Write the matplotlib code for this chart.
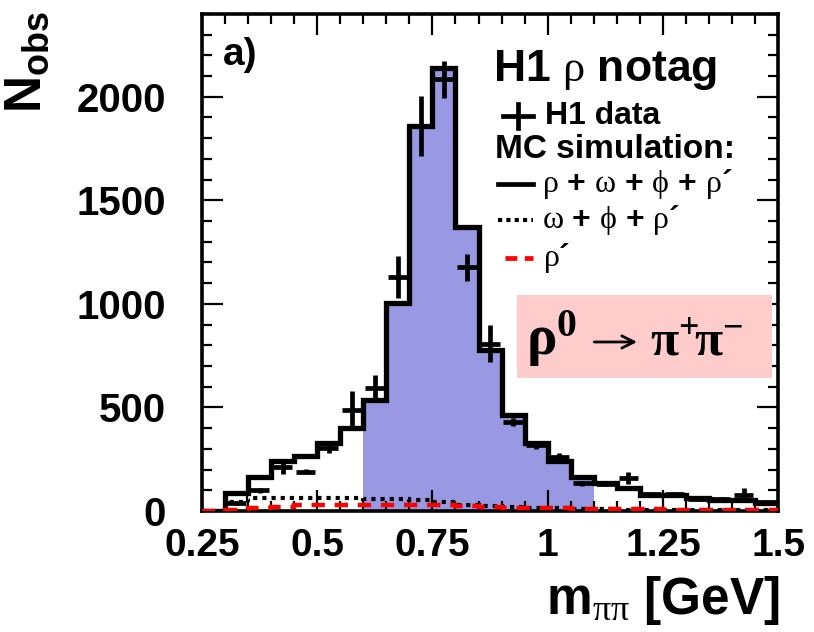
import numpy as np
import matplotlib
matplotlib.use("Agg")
import matplotlib.pyplot as plt
from matplotlib.patches import Rectangle
from matplotlib.ticker import MultipleLocator

plt.rcParams['font.family'] = ['Liberation Sans', 'DejaVu Sans']
plt.rcParams['font.weight'] = 'bold'
plt.rcParams['mathtext.fontset'] = 'custom'
plt.rcParams['mathtext.rm'] = 'Liberation Serif:weight=normal:style=normal'
plt.rcParams['mathtext.it'] = 'Liberation Serif:weight=normal:style=italic'
plt.rcParams['mathtext.bf'] = 'Liberation Serif:weight=bold:style=normal'
plt.rcParams['mathtext.sf'] = 'Liberation Sans:weight=bold:style=normal'
plt.rcParams['mathtext.default'] = 'rm'

# bin edges 0.25 .. 1.5 in steps of 0.05 GeV
edges = np.linspace(0.25, 1.5, 26)

# MC rho + omega + phi + rho'
mc_total = [0, 85, 165, 241, 265, 326, 402, 535, 1003, 1860, 2140, 1370, 776,
            463, 326, 242, 165, 133, 109, 77, 77, 61, 53, 53, 37]
# MC omega + phi + rho'
mc_bkg = [0, 45, 64, 64, 64, 64, 62, 60, 56, 52, 45, 30, 22, 18, 14, 12, 10,
          8, 7, 6, 5, 5, 4, 4, 3]
# MC rho'
mc_rhop = [2, 6, 13, 20, 27, 29, 29, 29, 28, 28, 27, 24, 18, 15, 13, 12, 10,
           9, 8, 8, 7, 6, 6, 5, 5]

# H1 data
data_x = [0.325, 0.375, 0.425, 0.475, 0.525, 0.575, 0.625, 0.675, 0.725, 0.775,
          0.825, 0.875, 0.925, 0.975, 1.025, 1.075, 1.125, 1.175, 1.225, 1.275,
          1.325, 1.375, 1.425, 1.475]
data_y = [40, 100, 213, 189, 302, 487, 595, 1129, 1860, 2085, 1177, 808, 430,
          318, 262, 133, 130, 158, 80, 82, 58, 58, 77, 45]
data_err = [10, 12, 35, 12, 20, 90, 60, 100, 145, 90, 65, 90, 20, 20, 20, 12,
            10, 30, 10, 10, 10, 10, 32, 10]

fig = plt.figure(figsize=(8.14, 6.32), dpi=100)
ax = fig.add_axes([0.248, 0.1915, 0.708, 0.7865])

# shaded signal window 0.6 - 1.1 GeV
lo, hi = 7, 17
ax.stairs(mc_total[lo:hi], edges[lo:hi + 1], fill=True, color='#9999e3',
          linewidth=0, zorder=1)
ax.stairs(mc_total, edges, color='black', linewidth=3.8, baseline=None, zorder=3)
ax.stairs(mc_bkg, edges, color='black', linewidth=3.0, linestyle=(0, (1, 1.2)),
          baseline=None, zorder=4)
ax.stairs(mc_rhop, edges, color='red', linewidth=3.2, linestyle=(0, (3, 2.2)),
          baseline=None, zorder=5)
ax.errorbar(data_x, data_y, yerr=data_err, xerr=0.021, fmt='none',
            ecolor='black', elinewidth=3.4, capsize=0, zorder=6)

ax.set_xlim(0.25, 1.5)
ax.set_ylim(0, 2400)
ax.xaxis.set_major_locator(MultipleLocator(0.25))
ax.xaxis.set_minor_locator(MultipleLocator(0.05))
ax.yaxis.set_major_locator(MultipleLocator(500))
ax.yaxis.set_minor_locator(MultipleLocator(100))
ax.set_xticks([0.25, 0.5, 0.75, 1.0, 1.25, 1.5])
ax.set_xticklabels(['0.25', '0.5', '0.75', '1', '1.25', '1.5'])
ax.tick_params(which='both', direction='in', top=True, right=True, width=1.6)
ax.tick_params(which='major', length=15)
ax.tick_params(which='minor', length=7)
ax.tick_params(axis='y', pad=26, labelsize=29)
ax.tick_params(axis='x', pad=12, labelsize=28)
for s in ax.spines.values():
    s.set_linewidth(2.6)

# axis titles
fig.text(0.958, 0.028, r'$\mathsf{m}_{\mathrm{\pi\pi}}$ [GeV]', fontsize=37,
         ha='right', va='baseline')
fig.text(0.003, 0.982, r'$\mathsf{N_{obs}}$', fontsize=37, rotation=90,
         ha='left', va='top')

# labels and legend
tr = ax.transAxes
ax.text(0.036, 0.917, 'a)', transform=tr, fontsize=28, va='center')
ax.text(0.505, 0.887, r'H1 $\mathrm{\rho}$ notag', transform=tr, fontsize=32,
        va='center')
ax.plot([0.522, 0.575], [0.795, 0.795], transform=tr, color='black', lw=3.4)
ax.plot([0.5485, 0.5485], [0.771, 0.819], transform=tr, color='black', lw=3.4)
ax.text(0.595, 0.795, 'H1 data', transform=tr, fontsize=23, va='center')
ax.text(0.509, 0.728, 'MC simulation:', transform=tr, fontsize=24, va='center')
ax.plot([0.514, 0.575], [0.658, 0.658], transform=tr, color='black', lw=3.4)
ax.text(0.590, 0.658, r'$\mathrm{\rho}$ + $\mathrm{\omega}$ + $\mathrm{\phi}$ + $\mathrm{\rho}$´',
        transform=tr, fontsize=23, va='center')
ax.plot([0.514, 0.575], [0.585, 0.585], transform=tr, color='black', lw=3.0,
        linestyle=(0, (1, 1.0)))
ax.text(0.590, 0.585, r'$\mathrm{\omega}$ + $\mathrm{\phi}$ + $\mathrm{\rho}$´',
        transform=tr, fontsize=23, va='center')
ax.plot([0.526, 0.575], [0.509, 0.509], transform=tr, color='red', lw=3.4,
        linestyle=(0, (2.5, 1.6)))
ax.text(0.592, 0.509, r'$\mathrm{\rho}$´', transform=tr, fontsize=23, va='center')

# decay box
ax.add_patch(Rectangle((0.547, 0.268), 0.443, 0.167, transform=tr,
                       facecolor='#ffcccc', edgecolor='none', zorder=7))
ax.text(0.562, 0.314, r'$\mathbf{\rho^0}$', transform=tr, fontsize=41,
        ha='left', va='baseline', zorder=8)
ax.annotate('', xy=(0.760, 0.340), xytext=(0.676, 0.340), xycoords=tr,
            arrowprops=dict(arrowstyle='->', lw=2.0, color='black',
                            mutation_scale=22), zorder=8)
ax.text(0.777, 0.314, r'$\mathbf{\pi^{+}\!\pi^{-}}$', transform=tr, fontsize=37,
        ha='left', va='baseline', zorder=8)

plt.savefig('out.png', dpi=100)
